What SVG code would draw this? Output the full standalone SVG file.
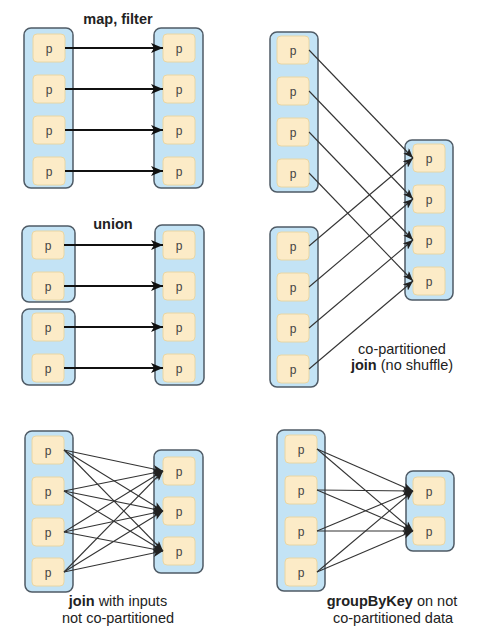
<svg xmlns="http://www.w3.org/2000/svg" width="487" height="642" viewBox="0 0 487 642">
<style>
.c{fill:#c3e3f5;stroke:#4f5b66;stroke-width:1.5}
.n{fill:#fcebc7;stroke:#e8d6a4;stroke-width:1}
.p{font-family:"Liberation Sans",Arial,sans-serif;font-size:12px;fill:#444;text-anchor:middle}
.t{font-family:"Liberation Sans",Arial,sans-serif;font-size:14.5px;fill:#222;text-anchor:middle}
.b{font-weight:bold}
.thick{stroke:#111;stroke-width:2;fill:none;marker-end:url(#ah)}
.thin{stroke:#333;stroke-width:1.1;fill:none;marker-end:url(#as)}
</style>
<defs>
<marker id="ah" markerUnits="userSpaceOnUse" markerWidth="12" markerHeight="10" refX="12" refY="5" orient="auto"><path d="M0,0 L12,5 L0,10 L3,5 z" fill="#111"/></marker>
<marker id="as" markerUnits="userSpaceOnUse" markerWidth="10" markerHeight="8" refX="10" refY="4" orient="auto"><path d="M0,0 L10,4 L0,8 L2.5,4 z" fill="#222"/></marker>
<g id="pn"><rect class="n" x="0" y="-14" width="32" height="28" rx="4"/><text class="p" x="16" y="4.5">p</text></g>
</defs>
<rect width="487" height="642" fill="#fff"/>

<!-- Panel A: map, filter -->
<text class="t b" x="118" y="23.5">map, filter</text>
<g id="a-left"><rect class="c" x="24" y="28" width="49" height="160" rx="7"/>
<use href="#pn" x="33" y="48"/><use href="#pn" x="33" y="89"/><use href="#pn" x="33" y="130"/><use href="#pn" x="33" y="171"/></g>
<g id="a-right"><rect class="c" x="154" y="28" width="49" height="160" rx="7"/>
<use href="#pn" x="163" y="48"/><use href="#pn" x="163" y="89"/><use href="#pn" x="163" y="130"/><use href="#pn" x="163" y="171"/></g>

<!-- Panel B: union -->
<text class="t b" x="113" y="229">union</text>
<g id="b-left1"><rect class="c" x="22" y="226" width="53" height="76" rx="7"/>
<use href="#pn" x="32" y="245"/><use href="#pn" x="32" y="286"/></g>
<g id="b-left2"><rect class="c" x="22" y="309" width="53" height="76" rx="7"/>
<use href="#pn" x="32" y="327"/><use href="#pn" x="32" y="368"/></g>
<g id="b-right"><rect class="c" x="155" y="225" width="49" height="160" rx="7"/>
<use href="#pn" x="163" y="245"/><use href="#pn" x="163" y="286"/><use href="#pn" x="163" y="327"/><use href="#pn" x="163" y="368"/></g>

<!-- Panel C: co-partitioned join -->
<g id="c-left1"><rect class="c" x="270" y="32" width="48" height="160" rx="7"/>
<use href="#pn" x="277" y="50"/><use href="#pn" x="277" y="91"/><use href="#pn" x="277" y="132"/><use href="#pn" x="277" y="173"/></g>
<g id="c-left2"><rect class="c" x="270" y="227" width="48" height="160" rx="7"/>
<use href="#pn" x="277" y="246"/><use href="#pn" x="277" y="287"/><use href="#pn" x="277" y="328"/><use href="#pn" x="277" y="369"/></g>
<g id="c-right"><rect class="c" x="405" y="140" width="48" height="160" rx="7"/>
<use href="#pn" x="413" y="158"/><use href="#pn" x="413" y="199"/><use href="#pn" x="413" y="240"/><use href="#pn" x="413" y="281"/></g>
<text class="t" x="402" y="354">co-partitioned</text>
<text class="t" x="402" y="370"><tspan class="b">join</tspan> (no shuffle)</text>

<!-- Panel D: join not co-partitioned -->
<g id="d-left"><rect class="c" x="25" y="431" width="48" height="161" rx="7"/>
<use href="#pn" x="32" y="450"/><use href="#pn" x="32" y="491"/><use href="#pn" x="32" y="532"/><use href="#pn" x="32" y="572"/></g>
<g id="d-right"><rect class="c" x="154" y="450" width="49" height="123" rx="7"/>
<use href="#pn" x="163" y="471"/><use href="#pn" x="163" y="511"/><use href="#pn" x="163" y="551"/></g>
<text class="t" x="118" y="606"><tspan class="b">join</tspan> with inputs</text>
<text class="t" x="118" y="623">not co-partitioned</text>

<!-- Panel E: groupByKey -->
<g id="e-left"><rect class="c" x="277" y="430" width="48" height="161" rx="7"/>
<use href="#pn" x="285" y="449"/><use href="#pn" x="285" y="490"/><use href="#pn" x="285" y="531"/><use href="#pn" x="285" y="572"/></g>
<g id="e-right"><rect class="c" x="406" y="471" width="48" height="80" rx="7"/>
<use href="#pn" x="413" y="491"/><use href="#pn" x="413" y="531"/></g>
<text class="t" x="392" y="606"><tspan class="b">groupByKey</tspan> on not</text>
<text class="t" x="393" y="623">co-partitioned data</text>

<g id="connectors">
<path class="thick" d="M65,48 L163,48"/>
<path class="thick" d="M65,89 L163,89"/>
<path class="thick" d="M65,130 L163,130"/>
<path class="thick" d="M65,171 L163,171"/>
<path class="thick" d="M64,245 L163,245"/>
<path class="thick" d="M64,286 L163,286"/>
<path class="thick" d="M64,327 L163,327"/>
<path class="thick" d="M64,368 L163,368"/>

<path class="thin" d="M309,50 L413,158"/>
<path class="thin" d="M309,91 L413,199"/>
<path class="thin" d="M309,132 L413,240"/>
<path class="thin" d="M309,173 L413,281"/>
<path class="thin" d="M309,246 L413,158"/>
<path class="thin" d="M309,287 L413,199"/>
<path class="thin" d="M309,328 L413,240"/>
<path class="thin" d="M309,369 L413,281"/>

<path class="thin" d="M64,450 L163,471"/><path class="thin" d="M64,450 L163,511"/><path class="thin" d="M64,450 L163,551"/>
<path class="thin" d="M64,491 L163,471"/><path class="thin" d="M64,491 L163,511"/><path class="thin" d="M64,491 L163,551"/>
<path class="thin" d="M64,532 L163,471"/><path class="thin" d="M64,532 L163,511"/><path class="thin" d="M64,532 L163,551"/>
<path class="thin" d="M64,572 L163,471"/><path class="thin" d="M64,572 L163,511"/><path class="thin" d="M64,572 L163,551"/>

<path class="thin" d="M317,449 L413,491"/><path class="thin" d="M317,449 L413,531"/>
<path class="thin" d="M317,490 L413,491"/><path class="thin" d="M317,490 L413,531"/>
<path class="thin" d="M317,531 L413,491"/><path class="thin" d="M317,531 L413,531"/>
<path class="thin" d="M317,572 L413,491"/><path class="thin" d="M317,572 L413,531"/>
</g>
</svg>
